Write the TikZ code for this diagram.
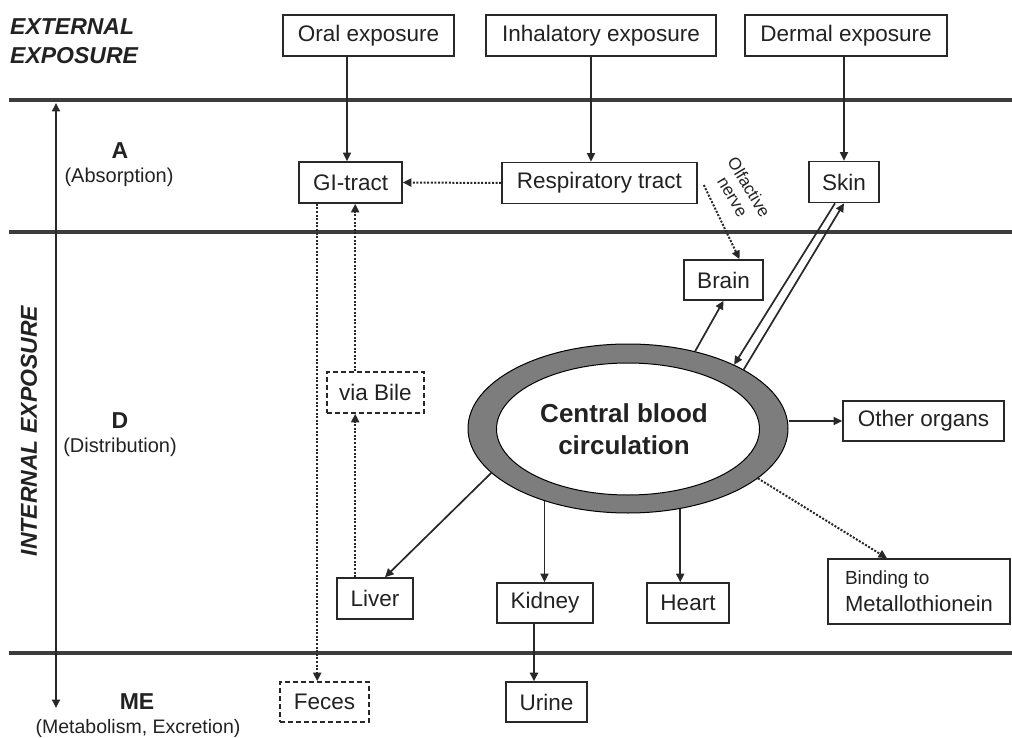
\documentclass[tikz,border=0pt]{standalone}
\usepackage{fontspec}
\setmainfont{Liberation Sans}
\usetikzlibrary{arrows.meta,calc,shapes.geometric}
\definecolor{txtcol}{RGB}{34,34,34}
\definecolor{linecol}{RGB}{40,40,40}
\definecolor{bandcol}{RGB}{60,60,60}
\definecolor{ringcol}{RGB}{125,125,125}
\newcommand{\fsz}[2]{\fontsize{#1}{#2}\selectfont}
\tikzset{
  box/.style={draw=linecol, line width=1.6pt, inner sep=0pt, minimum height=41pt, align=center, text=txtcol, font=\fsz{22.5}{27}},
  dbox/.style={box, dash pattern=on 5pt off 3pt},
  tip/.style={-{Triangle[length=8.5pt,width=8pt]}},
  arr/.style={draw=linecol, line width=1.7pt, tip},
  dotarr/.style={draw=linecol, line width=2pt, dash pattern=on 2pt off 1.6pt, tip},
  band/.style={draw=bandcol, line width=4.8pt},
  lbl/.style={text=txtcol, inner sep=0pt},
}
\begin{document}
\begin{tikzpicture}[x=1pt,y=-1pt]
\useasboundingbox[fill=white] (0,0) rectangle (1012,738);

% bands
\coordinate (b1l) at (9,100); \coordinate (b1r) at (1012,100);
\coordinate (b2l) at (9,232); \coordinate (b2r) at (1012,232);
\coordinate (b3l) at (9,653); \coordinate (b3r) at (1012,653);
\draw[band] (b1l) -- (b1r);
\draw[band] (b2l) -- (b2r);
\draw[band] (b3l) -- (b3r);

% side labels
\node[lbl, anchor=west, align=left, font=\fsz{23}{28.5}\bfseries\itshape] (ext) at (10,41) {EXTERNAL\\EXPOSURE};
\node[lbl, rotate=90, font=\fsz{23}{28}\bfseries\itshape] (int) at (29,431) {INTERNAL EXPOSURE};
\node[lbl, font=\fsz{23}{28}\bfseries] (A) at (120,151) {A};
\node[lbl, font=\fsz{20}{24}] (Ab) at (119,177) {(Absorption)};
\node[lbl, font=\fsz{23}{28}\bfseries] (D) at (120,421) {D};
\node[lbl, font=\fsz{20}{24}] (Db) at (120,447) {(Distribution)};
\node[lbl, font=\fsz{23}{28}\bfseries] (ME) at (137,702) {ME};
\node[lbl, font=\fsz{19.5}{24}] (MEb) at (138,728) {(Metabolism, Excretion)};

% left double arrow
\coordinate (vt) at (56,103);
\coordinate (vb) at (56,708);
\draw[draw=linecol, line width=1.8pt, {Triangle[length=8.5pt,width=8pt]}-{Triangle[length=8.5pt,width=8pt]}] (vt) -- (vb);

% boxes
\node[box, minimum width=171pt] (oral) at (368.5,35.5) {Oral exposure};
\node[box, minimum width=230pt] (inhal) at (601,35.5) {Inhalatory exposure};
\node[box, minimum width=202pt] (dermal) at (846,35.5) {Dermal exposure};
\node[box, minimum width=103pt] (gi) at (350.5,182.5) {GI-tract};
\node[box, minimum width=195pt] (resp) at (599.5,183) {Respiratory tract};
\node[box, minimum width=70pt] (skin) at (844,182) {Skin};
\node[box, minimum width=79pt, minimum height=40pt] (brain) at (723.5,280) {Brain};
\node[dbox, minimum width=97pt] (bile) at (375.5,392.5) {via Bile};
\node[box, minimum width=161pt, minimum height=40pt] (other) at (923.5,421) {Other organs};
\node[box, minimum width=76pt] (liver) at (375,598.5) {Liver};
\node[box, minimum width=96pt, minimum height=40pt] (kidney) at (545,603) {Kidney};
\node[box, minimum width=82pt, minimum height=40pt] (heart) at (688,603) {Heart};
\node[box, minimum width=182pt, minimum height=65pt, align=left] (bind) at (919,591.5) {{\fsz{19}{26}Binding to}\\{\fsz{22}{26}Metallothionein}};
\node[dbox, minimum width=89pt, minimum height=40pt] (feces) at (324.5,702) {Feces};
\node[box, minimum width=81pt, minimum height=40pt] (urine) at (546.5,702) {Urine};

% central blood circulation
\node[ellipse, draw=black, line width=1pt, fill=ringcol, minimum width=320pt, minimum height=169pt, inner sep=0pt] (blood) at (628,428.5) {};
\node[ellipse, draw=black, line width=1pt, fill=white, minimum width=263pt, minimum height=132pt, inner sep=0pt, align=center, text=txtcol, font=\fsz{26}{32}\bfseries] (bloodin) at (628,429) {\hspace*{-8pt}Central blood\\\hspace*{-8pt}circulation};

% olfactive label
\node[lbl, rotate=-59, align=center, font=\fsz{17}{19}] (olf) at (741,192) {Olfactive\\nerve};

% exposure arrows
\coordinate (t1) at ($(gi.north)+(-3.5,0)$);
\draw[arr] (oral.south -| t1) -- (t1);
\coordinate (t2) at ($(resp.north)+(-8.5,0)$);
\draw[arr] (inhal.south -| t2) -- (t2);
\draw[arr] (dermal.south -| skin.north) -- (skin.north);

% absorption
\draw[dotarr] (resp.west) -- (gi.east);
\coordinate (o1) at ($(resp.east)+(6,2)$);
\coordinate (o2) at ($(brain.north)+(16,0)$);
\draw[dotarr] (o1) -- (o2);

% skin <-> blood
\coordinate (s1) at ($(skin.south)+(-9,0)$);
\draw[arr] (s1) -- (blood.31);
\draw[arr] (blood.27) -- (skin.south);

% distribution
\draw[arr] (blood.49) -- (brain.south);
\draw[arr] (other.west -| blood.east) -- (other.west);
\coordinate (l1) at ($(liver.north)+(10,0)$);
\draw[arr] (blood.198) -- (l1);
\draw[arr] (blood.221) -- (blood.221 |- kidney.north);
\draw[arr] (blood.303) -- (blood.303 |- heart.north);
\coordinate (m1) at ($(bind.north)+(-32,0)$);
\draw[dotarr] (blood.339) -- (m1);

% bile path
\coordinate (c1) at ($(liver.north west)+(19,0)$);
\draw[dotarr] (c1) -- (c1 |- bile.south);
\draw[dotarr] (bile.north -| c1) -- (c1 |- gi.south);
\coordinate (g1) at ($(gi.south west)+(19,0)$);
\draw[dotarr] (g1) -- (g1 |- feces.north);

% excretion
\coordinate (k1) at ($(kidney.south)+(-11,0)$);
\draw[arr, line width=2.2pt] (k1) -- (k1 |- urine.north);
\end{tikzpicture}
\end{document}
